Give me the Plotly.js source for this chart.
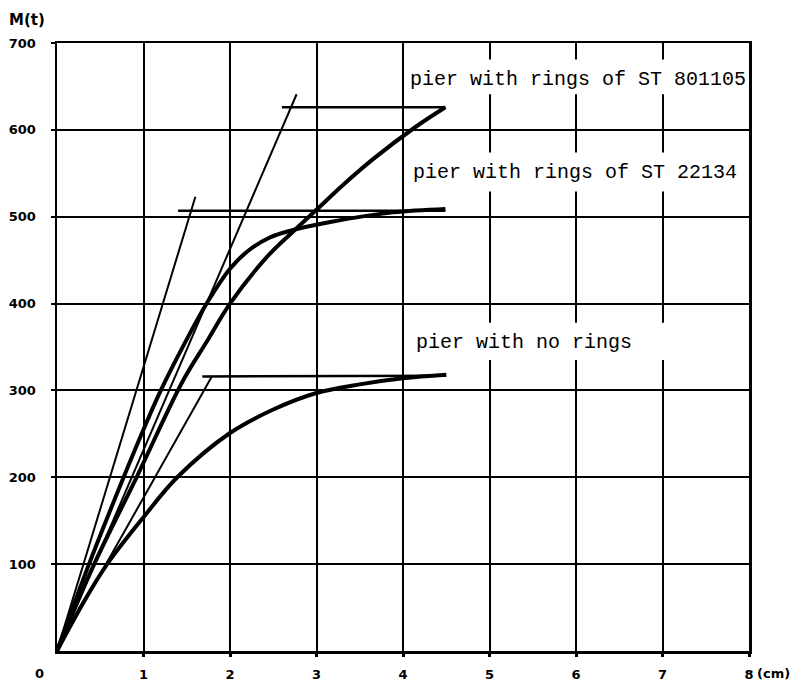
<!DOCTYPE html>
<html>
<head>
<meta charset="utf-8">
<script src="https://cdn.plot.ly/plotly-3.0.1.min.js"></script>
<style>html,body{margin:0;padding:0;background:#fff;}#chart{width:791px;height:682px;}</style>
</head>
<body>
<div id="chart"></div>
<script>
// ---- data (displacement δ in cm, load M in t) ----
const xTickVals = [1, 2, 3, 4, 5, 6, 7, 8];
const xTickText = ['1', '2', '3', '4', '5', '6', '7', '8'];
const yTickVals = [100, 200, 300, 400, 500, 600, 700];
const yTickText = ['100', '200', '300', '400', '500', '600', '700'];

const labels = ['pier with rings of ST 801105', 'pier with rings of ST 22134', 'pier with no rings'];

// measured curves
const st801105X = [0, 0.43, 0.92, 1.45, 1.73, 2.00, 2.43, 2.73, 3.00, 3.30, 3.65, 4.14, 4.49];
const st801105Y = [0, 100, 200, 310, 356, 400, 454, 483, 508, 536, 566, 603, 626];
const st22134X = [0, 0.37, 0.77, 1.00, 1.20, 1.48, 1.73, 2.00, 2.20, 2.46, 2.70, 3.16, 3.88, 4.49];
const st22134Y = [0, 100, 200, 255, 300, 355, 400, 440, 460, 476, 484, 494, 505, 509];
const noRingX = [0, 0.30, 0.58, 1.00, 1.39, 2.00, 2.50, 3.00, 3.50, 4.00, 4.50];
const noRingY = [0, 55, 100, 154, 200, 251, 278, 297, 307, 314, 318];

// initial-stiffness lines
const tan801105X = [0, 2.77];
const tan801105Y = [0, 641];
const tan22134X = [0, 1.60];
const tan22134Y = [0, 523];
const tanNoRingX = [0, 1.79];
const tanNoRingY = [0, 316];

// ultimate-load lines
const yld801105X = [2.60, 4.49];
const yld801105Y = [626, 626];
const yld22134X = [1.40, 4.49];
const yld22134Y = [507, 507];
const yldNoRingX = [1.68, 4.50];
const yldNoRingY = [316, 317];

const thick = {color: '#000', width: 4, shape: 'spline', smoothing: 1};
const thin = {color: '#000', width: 2};
const mid = {color: '#000', width: 2.5};

function tr(x, y, line) {
  return {x: x, y: y, type: 'scatter', mode: 'lines', line: line, hoverinfo: 'skip', showlegend: false, cliponaxis: false};
}

const data = [
  tr(tan801105X, tan801105Y, thin),
  tr(tan22134X, tan22134Y, thin),
  tr(tanNoRingX, tanNoRingY, thin),
  tr(yld801105X, yld801105Y, mid),
  tr(yld22134X, yld22134Y, mid),
  tr(yldNoRingX, yldNoRingY, mid),
  tr(st801105X, st801105Y, thick),
  tr(st22134X, st22134Y, thick),
  tr(noRingX, noRingY, thick)
];

const tickFont = {family: 'DejaVu Sans', size: 13, color: '#000', weight: 'bold'};
const labelFont = {family: 'Liberation Mono', size: 20, color: '#000'};

const plotW = 791 - 57 - 42, plotH = 682 - 43 - 31;

const layout = {
  width: 791, height: 682,
  margin: {l: 57, r: 42, t: 43, b: 31},
  paper_bgcolor: '#fff', plot_bgcolor: '#fff',
  showlegend: false,
  xaxis: {
    range: [0, 8], tickvals: xTickVals, ticktext: xTickText,
    showgrid: true, gridcolor: '#000', gridwidth: 2,
    showline: true, linecolor: '#000', linewidth: 2.5, mirror: true,
    ticks: 'outside', ticklen: 3, tickwidth: 3, tickcolor: '#000',
    ticklabelstandoff: 7,
    tickfont: tickFont, zeroline: false, fixedrange: true
  },
  yaxis: {
    range: [0, 700], tickvals: yTickVals, ticktext: yTickText,
    showgrid: true, gridcolor: '#000', gridwidth: 2,
    showline: true, linecolor: '#000', linewidth: 2.5, mirror: true,
    ticks: 'outside', ticklen: 4, tickwidth: 2, tickcolor: '#000',
    ticklabelstandoff: 12,
    tickfont: tickFont, zeroline: false, fixedrange: true
  },
  shapes: [
    {type: 'rect', xref: 'x', yref: 'y', x0: 4.05, x1: 7.95, y0: 641, y1: 681, layer: 'between', fillcolor: '#fff', line: {width: 0}},
    {type: 'rect', xref: 'x', yref: 'y', x0: 4.05, x1: 7.95, y0: 529, y1: 574, layer: 'between', fillcolor: '#fff', line: {width: 0}},
    {type: 'rect', xref: 'x', yref: 'y', x0: 4.05, x1: 7.95, y0: 335, y1: 378, layer: 'between', fillcolor: '#fff', line: {width: 0}}
  ],
  annotations: [
    {text: labels[0], x: 4.06, y: 658, xref: 'x', yref: 'y', xanchor: 'left', yanchor: 'middle', showarrow: false, font: labelFont},
    {text: labels[1], x: 4.09, y: 551, xref: 'x', yref: 'y', xanchor: 'left', yanchor: 'middle', showarrow: false, font: labelFont},
    {text: labels[2], x: 4.13, y: 355, xref: 'x', yref: 'y', xanchor: 'left', yanchor: 'middle', showarrow: false, font: labelFont},
    {text: 'M(t)', x: (7 - 57) / plotW, y: 1 + (43 - 20) / plotH, xref: 'paper', yref: 'paper', showarrow: false,
     font: {family: 'DejaVu Sans', size: 15, color: '#000', weight: 'bold'}, xanchor: 'left', yanchor: 'middle'},
    {text: '0', x: (39 - 57) / plotW, y: -(673 - 651) / plotH, xref: 'paper', yref: 'paper', showarrow: false,
     font: tickFont, xanchor: 'center', yanchor: 'middle'},
    {text: '(cm)', x: (755 - 57) / plotW, y: -(673 - 651) / plotH, xref: 'paper', yref: 'paper', showarrow: false,
     font: tickFont, xanchor: 'left', yanchor: 'middle'}
  ]
};

Plotly.newPlot('chart', data, layout, {displayModeBar: false, staticPlot: true});
</script>
</body>
</html>
